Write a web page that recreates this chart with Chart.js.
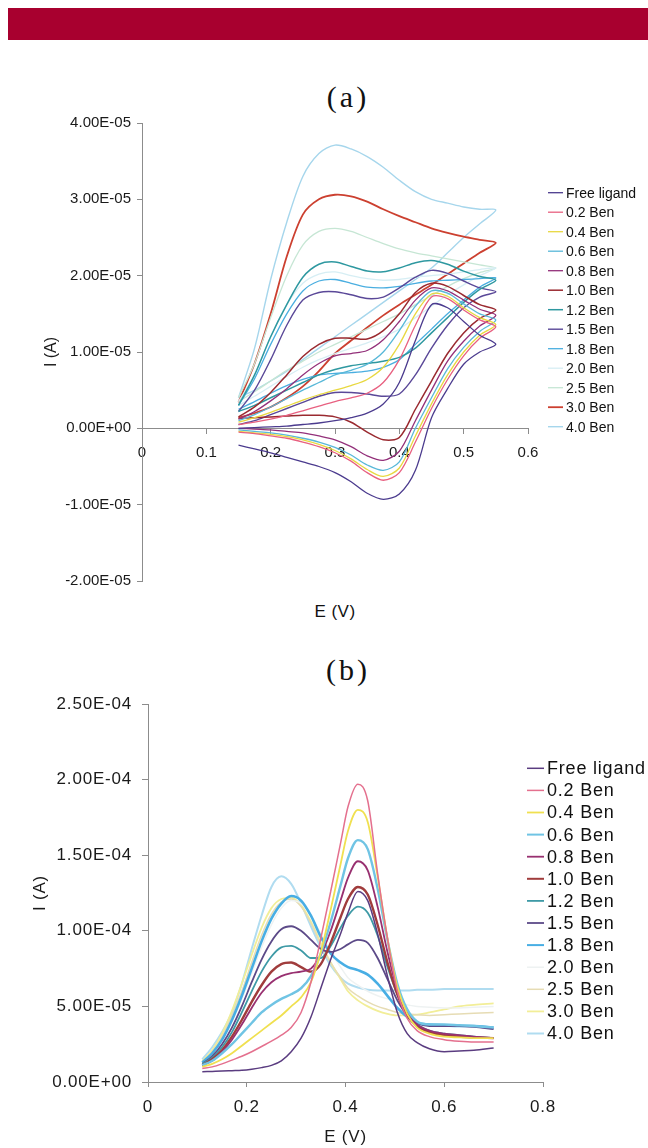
<!DOCTYPE html>
<html lang="en">
<head>
<meta charset="UTF-8" />
<title>Voltammograms (a) and (b)</title>
<script src="https://cdn.jsdelivr.net/npm/chart.js@4.4.1/dist/chart.umd.min.js"></script>
<style>
  body { margin: 0; width: 648px; height: 1148px; background: #fff; position: relative; overflow: hidden;
         font-family: 'Liberation Sans', Arial, sans-serif; color: #111; }
  .bar { position: absolute; left: 8px; top: 8px; width: 640px; height: 32px; background: #a8002f; }
  .panel { position: absolute; left: 298px; width: 100px; text-align: center; font-family: 'Liberation Serif', 'Times New Roman', serif;
           font-size: 30px; line-height: 34px; letter-spacing: 3px; }
  .xtitle { position: absolute; left: 285px; width: 100px; text-align: center; font-size: 17px; line-height: 20px; letter-spacing: 0.5px; }
  canvas { position: absolute; left: 0; }
</style>
</head>
<body>

  <div class="bar"></div>
  <div class="panel" style="top:80px">(a)</div>
  <canvas id="chartA" width="648" height="500" style="top:100px;width:648px;height:500px"></canvas>
  <div class="xtitle" style="top:602px">E (V)</div>

  <div class="panel" style="top:653px">(b)</div>
  <canvas id="chartB" width="648" height="468" style="top:680px;width:648px;height:468px"></canvas>

<script>
  // ---- data (currents in units of 1E-05 A) ----
  const seriesLabels = ['Free ligand', '0.2 Ben', '0.4 Ben', '0.6 Ben', '0.8 Ben', '1.0 Ben',
                        '1.2 Ben', '1.5 Ben', '1.8 Ben', '2.0 Ben', '2.5 Ben', '3.0 Ben', '4.0 Ben'];

  // (a) cyclic sweeps: forward 0.15 -> 0.55 V, reverse 0.55 -> 0.15 V (both listed by rising E)
  const aPotential = [0.15, 0.175, 0.2, 0.225, 0.25, 0.275, 0.3, 0.325, 0.35, 0.375, 0.4, 0.425, 0.45, 0.475, 0.5, 0.525, 0.55];

  const aFreeFwd = [0.00, 0.01, 0.02, 0.03, 0.05, 0.07, 0.10, 0.14, 0.20, 0.32, 0.60, 1.15, 1.62, 1.58, 1.40, 1.22, 1.10];
  const aFreeRev = [-0.22, -0.27, -0.32, -0.38, -0.44, -0.50, -0.58, -0.70, -0.85, -0.93, -0.86, -0.55, 0.14, 0.52, 0.84, 1.00, 1.10];
  const a02Fwd = [0.05, 0.08, 0.12, 0.17, 0.23, 0.29, 0.35, 0.40, 0.46, 0.60, 0.90, 1.35, 1.72, 1.70, 1.55, 1.42, 1.33];
  const a02Rev = [-0.05, -0.07, -0.10, -0.13, -0.18, -0.24, -0.32, -0.43, -0.58, -0.68, -0.58, -0.18, 0.26, 0.64, 0.95, 1.18, 1.33];
  const a04Fwd = [0.08, 0.14, 0.21, 0.29, 0.37, 0.44, 0.50, 0.56, 0.64, 0.80, 1.10, 1.50, 1.76, 1.73, 1.58, 1.45, 1.36];
  const a04Rev = [-0.04, -0.06, -0.08, -0.11, -0.15, -0.21, -0.29, -0.40, -0.54, -0.63, -0.52, -0.10, 0.32, 0.70, 1.00, 1.22, 1.36];
  const a06Fwd = [0.10, 0.18, 0.28, 0.39, 0.50, 0.60, 0.70, 0.76, 0.84, 1.00, 1.28, 1.60, 1.80, 1.77, 1.63, 1.50, 1.42];
  const a06Rev = [-0.02, -0.04, -0.06, -0.09, -0.13, -0.18, -0.25, -0.35, -0.48, -0.55, -0.44, 0.00, 0.40, 0.78, 1.06, 1.27, 1.42];
  const a08Fwd = [0.12, 0.22, 0.36, 0.52, 0.70, 0.85, 0.95, 0.98, 1.02, 1.16, 1.40, 1.68, 1.84, 1.80, 1.68, 1.56, 1.48];
  const a08Rev = [0.00, -0.01, -0.02, -0.04, -0.06, -0.10, -0.15, -0.24, -0.36, -0.42, -0.30, 0.10, 0.50, 0.88, 1.14, 1.34, 1.48];
  const a10Fwd = [0.15, 0.28, 0.47, 0.70, 0.94, 1.10, 1.18, 1.18, 1.17, 1.28, 1.50, 1.78, 1.90, 1.86, 1.74, 1.62, 1.55];
  const a10Rev = [0.13, 0.14, 0.15, 0.16, 0.17, 0.17, 0.15, 0.08, -0.05, -0.15, -0.12, 0.25, 0.62, 0.98, 1.25, 1.44, 1.55];
  const a12Fwd = [0.30, 0.70, 1.20, 1.62, 1.98, 2.15, 2.18, 2.12, 2.06, 2.05, 2.10, 2.17, 2.20, 2.15, 2.06, 1.99, 1.94];
  const a12Rev = [0.22, 0.30, 0.40, 0.50, 0.60, 0.70, 0.77, 0.82, 0.85, 0.88, 0.93, 1.05, 1.25, 1.45, 1.65, 1.82, 1.94];
  const a15Fwd = [0.22, 0.50, 0.90, 1.35, 1.68, 1.78, 1.79, 1.75, 1.70, 1.72, 1.84, 1.98, 2.07, 2.03, 1.93, 1.84, 1.79];
  const a15Rev = [0.05, 0.10, 0.18, 0.26, 0.34, 0.42, 0.47, 0.47, 0.45, 0.42, 0.45, 0.70, 1.05, 1.35, 1.58, 1.72, 1.79];
  const a18Fwd = [0.30, 0.65, 1.10, 1.50, 1.80, 1.93, 1.95, 1.90, 1.85, 1.84, 1.86, 1.90, 1.93, 1.94, 1.95, 1.96, 1.97];
  const a18Rev = [0.25, 0.35, 0.46, 0.56, 0.64, 0.70, 0.72, 0.73, 0.75, 0.80, 0.90, 1.10, 1.30, 1.50, 1.68, 1.85, 1.97];
  const a20Fwd = [0.35, 0.70, 1.20, 1.62, 1.90, 2.02, 2.05, 2.00, 1.96, 1.94, 1.95, 1.98, 2.00, 2.02, 2.05, 2.08, 2.10];
  const a20Rev = [0.30, 0.42, 0.55, 0.68, 0.80, 0.90, 0.98, 1.05, 1.12, 1.20, 1.30, 1.45, 1.60, 1.75, 1.88, 2.00, 2.10];
  const a25Fwd = [0.40, 0.85, 1.45, 2.00, 2.40, 2.58, 2.62, 2.58, 2.50, 2.42, 2.35, 2.30, 2.26, 2.22, 2.18, 2.14, 2.10];
  const a25Rev = [0.35, 0.48, 0.62, 0.76, 0.88, 1.00, 1.10, 1.20, 1.30, 1.40, 1.50, 1.62, 1.74, 1.86, 1.96, 2.04, 2.10];
  const a30Fwd = [0.34, 0.85, 1.50, 2.25, 2.80, 3.00, 3.06, 3.04, 2.97, 2.87, 2.78, 2.70, 2.62, 2.56, 2.51, 2.47, 2.43];
  const a30Rev = [0.14, 0.20, 0.28, 0.40, 0.55, 0.75, 0.98, 1.15, 1.32, 1.48, 1.62, 1.75, 1.88, 2.02, 2.16, 2.30, 2.43];
  const a40Fwd = [0.40, 1.05, 1.95, 2.70, 3.30, 3.60, 3.71, 3.66, 3.56, 3.42, 3.25, 3.10, 3.00, 2.95, 2.90, 2.87, 2.86];
  const a40Rev = [0.40, 0.50, 0.62, 0.75, 0.90, 1.05, 1.20, 1.35, 1.50, 1.65, 1.80, 1.95, 2.10, 2.30, 2.50, 2.68, 2.86];

  const aSweeps = [[aFreeFwd, aFreeRev], [a02Fwd, a02Rev], [a04Fwd, a04Rev], [a06Fwd, a06Rev], [a08Fwd, a08Rev],
                   [a10Fwd, a10Rev], [a12Fwd, a12Rev], [a15Fwd, a15Rev], [a18Fwd, a18Rev], [a20Fwd, a20Rev],
                   [a25Fwd, a25Rev], [a30Fwd, a30Rev], [a40Fwd, a40Rev]];

  // (b) differential pulse scans
  const bPotential = [0.11, 0.13, 0.15, 0.17, 0.19, 0.21, 0.23, 0.25, 0.27, 0.29, 0.31, 0.33, 0.35, 0.37,
                      0.39, 0.405, 0.425, 0.445, 0.465, 0.485, 0.505, 0.525, 0.545, 0.57, 0.60, 0.63, 0.66, 0.70];

  const bFree = [0.68, 0.70, 0.72, 0.75, 0.78, 0.85, 0.95, 1.1, 1.4, 2.0, 2.9, 4.3, 6.2, 8.1, 9.8, 11.2, 12.6, 12.0, 9.8, 7.0, 4.6, 3.2, 2.6, 2.2, 2.0, 2.05, 2.1, 2.25];
  const b02 = [0.9, 1.0, 1.2, 1.45, 1.7, 2.0, 2.35, 2.7, 3.1, 3.6, 4.6, 6.6, 9.5, 12.6, 15.8, 18.2, 19.7, 18.6, 13.8, 9.5, 6.0, 4.2, 3.4, 3.0, 2.8, 2.7, 2.65, 2.65];
  const b04 = [1.0, 1.2, 1.5, 1.9, 2.4, 2.9, 3.4, 3.9, 4.4, 5.0, 5.6, 6.6, 8.6, 11.4, 14.4, 16.6, 18.0, 17.2, 13.6, 9.5, 6.3, 4.5, 3.6, 3.2, 3.0, 2.95, 2.9, 2.9];
  const b06 = [1.1, 1.4, 1.9, 2.5, 3.2, 3.9, 4.6, 5.1, 5.5, 5.8, 6.2, 7.0, 8.5, 10.6, 13.0, 14.8, 16.0, 15.4, 12.8, 9.4, 6.5, 4.8, 4.0, 3.8, 3.8, 3.75, 3.7, 3.6];
  const b08 = [1.1, 1.4, 2.0, 2.8, 3.8, 4.9, 5.9, 6.6, 7.0, 7.2, 7.3, 7.5, 8.4, 10.0, 12.0, 13.5, 14.6, 14.0, 11.6, 8.6, 6.1, 4.6, 3.8, 3.4, 3.2, 3.1, 3.0, 2.9];
  const b10 = [1.1, 1.5, 2.1, 3.0, 4.1, 5.3, 6.4, 7.3, 7.8, 7.9, 7.6, 7.3, 7.8, 9.2, 10.9, 12.1, 12.9, 12.4, 10.4, 7.9, 5.8, 4.4, 3.7, 3.3, 3.1, 3.0, 2.95, 2.9];
  const b12 = [1.2, 1.6, 2.3, 3.3, 4.6, 6.0, 7.3, 8.3, 8.9, 9.0, 8.7, 8.2, 8.2, 9.0, 10.2, 11.0, 11.6, 11.2, 9.7, 7.6, 5.8, 4.5, 3.8, 3.4, 3.2, 3.1, 3.0, 2.9];
  const b15 = [1.2, 1.7, 2.5, 3.6, 5.0, 6.6, 8.1, 9.3, 10.1, 10.3, 10.0, 9.4, 8.8, 8.6, 8.8, 9.1, 9.4, 9.2, 8.2, 6.8, 5.4, 4.4, 3.9, 3.7, 3.7, 3.7, 3.65, 3.5];
  const b18 = [1.3, 1.9, 2.8, 4.1, 5.7, 7.5, 9.3, 10.8, 11.8, 12.3, 12.0, 11.0, 9.6, 8.5, 7.9, 7.6, 7.4, 7.1, 6.5, 5.7, 4.9, 4.3, 3.9, 3.8, 3.75, 3.7, 3.7, 3.6];
  const b20 = [1.3, 1.9, 2.8, 4.0, 5.5, 7.2, 8.9, 10.4, 11.5, 12.0, 11.8, 11.0, 9.8, 8.6, 7.6, 6.9, 6.4, 6.0, 5.7, 5.5, 5.3, 5.1, 5.0, 4.95, 4.9, 4.9, 4.95, 5.0];
  const b25 = [1.3, 2.0, 3.0, 4.4, 6.0, 7.9, 9.7, 11.1, 11.9, 12.1, 11.6, 10.5, 9.1, 7.9, 6.9, 6.2, 5.7, 5.3, 5.0, 4.8, 4.6, 4.5, 4.45, 4.4, 4.45, 4.5, 4.55, 4.6];
  const b30 = [1.4, 2.1, 3.2, 4.7, 6.5, 8.4, 10.2, 11.5, 12.1, 12.2, 11.7, 10.6, 9.2, 7.9, 6.8, 6.0, 5.4, 5.0, 4.7, 4.5, 4.4, 4.4, 4.45, 4.6, 4.8, 5.0, 5.1, 5.2];
  const b40 = [1.5, 2.3, 3.3, 4.6, 6.5, 8.8, 11.0, 12.9, 13.6, 13.1, 11.8, 10.3, 8.9, 7.7, 6.9, 6.5, 6.25, 6.1, 6.05, 6.05, 6.05, 6.05, 6.1, 6.1, 6.15, 6.15, 6.15, 6.15];

  const bCurves = [bFree, b02, b04, b06, b08, b10, b12, b15, b18, b20, b25, b30, b40];

  const aColors = ['#4b3b8e', '#e86080', '#e8d840', '#58b8d8', '#93307a', '#9a2a30', '#2e98a0',
                   '#5a4898', '#4aaee0', '#d6eef4', '#c6e6d4', '#cc4030', '#a6d6ec'];
  const aWidths = [1.3, 1.3, 1.3, 1.3, 1.3, 1.5, 1.5, 1.4, 1.3, 1.3, 1.3, 1.8, 1.4];
  const bColors = ['#5a3c80', '#e4708e', '#f0e050', '#70c4e4', '#983070', '#a03c3c', '#3e9aa6',
                   '#5c4a88', '#48aee4', '#eef2f2', '#e6dcb4', '#f2ee98', '#b0dcf0'];
  const bWidths = [1.5, 1.5, 1.8, 2.4, 1.8, 2.4, 1.8, 1.8, 2.6, 1.5, 1.5, 1.8, 2.0];

  const unit = 1e-5;

  function sci(v) {
    if (Math.abs(v) < 1e-15) return '0.00E+00';
    const e = Math.floor(Math.log10(Math.abs(v)) + 1e-9);
    const m = v / Math.pow(10, e);
    return m.toFixed(2) + 'E' + (e < 0 ? '-' : '+') + String(Math.abs(e)).padStart(2, '0');
  }

  // legend with short line samples, drawn at fixed place on the right
  const lineLegend = {
    id: 'lineLegend',
    beforeDraw(chart, args, opts) {
      chart.ctx.letterSpacing = opts.spacing || '0px';
    },
    afterDraw(chart, args, opts) {
      const ctx = chart.ctx;
      ctx.save();
      ctx.font = opts.font;
      ctx.letterSpacing = opts.spacing || '0px';
      ctx.textBaseline = 'middle';
      ctx.fillStyle = '#111';
      chart.data.datasets.forEach((ds, i) => {
        const y = opts.top + i * opts.step;
        ctx.strokeStyle = ds.borderColor;
        ctx.lineWidth = Math.min(ds.borderWidth, 2);
        ctx.beginPath();
        ctx.moveTo(opts.left, y);
        ctx.lineTo(opts.left + opts.line, y);
        ctx.stroke();
        ctx.fillText(ds.label, opts.left + opts.line + opts.gap, y + 1);
      });
      ctx.restore();
    }
  };

  Chart.defaults.font.family = "'Liberation Sans', Arial, sans-serif";
  Chart.defaults.color = '#1a1a1a';

  const axisGray = '#8c8c8c';

  // ---- chart (a) ----
  const aSets = aSweeps.map((s, i) => {
    const fwd = aPotential.map((e, k) => ({ x: e, y: s[0][k] }));
    const rev = aPotential.slice(0, -1).map((e, k) => ({ x: e, y: s[1][k] })).reverse();
    return {
      label: seriesLabels[i],
      data: fwd.concat(rev),
      borderColor: aColors[i],
      borderWidth: aWidths[i],
      showLine: true,
      pointRadius: 0,
      tension: 0.3
    };
  });

  new Chart(document.getElementById('chartA'), {
    type: 'scatter',
    data: { datasets: aSets },
    plugins: [lineLegend],
    options: {
      responsive: false,
      animation: false,
      events: [],
      devicePixelRatio: 1,
      layout: { padding: { left: 38, right: 120, top: 23, bottom: 19 } },
      scales: {
        x: {
          type: 'linear',
          position: { y: 0 },
          min: 0, max: 0.6,
          ticks: { stepSize: 0.1, padding: 11, font: { size: 15 } },
          grid: { drawOnChartArea: false, tickLength: 5, color: axisGray },
          border: { color: axisGray }
        },
        y: {
          min: -2, max: 4,
          ticks: { stepSize: 1, padding: 6, font: { size: 15 }, callback: v => sci(v * unit) },
          grid: { drawOnChartArea: false, tickLength: 5, color: axisGray },
          border: { color: axisGray },
          title: { display: true, text: 'I (A)', font: { size: 16 } },
          afterFit: s => { s.width = 104; }
        }
      },
      plugins: {
        legend: { display: false },
        tooltip: { enabled: false },
        lineLegend: { left: 548, top: 92.7, step: 19.5, line: 15, gap: 3, font: "14px 'Liberation Sans', Arial, sans-serif", spacing: '0px' }
      }
    }
  });

  // ---- chart (b) ----
  const bSets = bCurves.map((c, i) => ({
    label: seriesLabels[i],
    data: bPotential.map((e, k) => ({ x: e, y: c[k] })),
    borderColor: bColors[i],
    borderWidth: bWidths[i],
    showLine: true,
    pointRadius: 0,
    cubicInterpolationMode: 'monotone'
  }));

  new Chart(document.getElementById('chartB'), {
    type: 'scatter',
    data: { datasets: bSets },
    plugins: [lineLegend],
    options: {
      responsive: false,
      animation: false,
      events: [],
      devicePixelRatio: 1,
      layout: { padding: { left: 26, right: 105, top: 24, bottom: 0 } },
      scales: {
        x: {
          type: 'linear',
          min: 0, max: 0.8,
          ticks: { stepSize: 0.2, padding: 10, font: { size: 17 } },
          grid: { drawOnChartArea: false, tickLength: 5, color: axisGray },
          border: { color: axisGray },
          title: { display: true, text: 'E (V)', font: { size: 17 }, padding: { top: 0, bottom: 0 } },
          afterFit: s => { s.height = 66; }
        },
        y: {
          min: 0, max: 25,
          ticks: { stepSize: 5, padding: 10, font: { size: 17 }, callback: v => sci(v * unit) },
          grid: { drawOnChartArea: false, tickLength: 6, color: axisGray },
          border: { color: axisGray },
          title: { display: true, text: 'I (A)', font: { size: 17 } },
          afterFit: s => { s.width = 122; }
        }
      },
      plugins: {
        legend: { display: false },
        tooltip: { enabled: false },
        lineLegend: { left: 527, top: 88.3, step: 22.1, line: 17, gap: 3, font: "18px 'Liberation Sans', Arial, sans-serif", spacing: '0.8px' }
      }
    }
  });
</script>
</body>
</html>
